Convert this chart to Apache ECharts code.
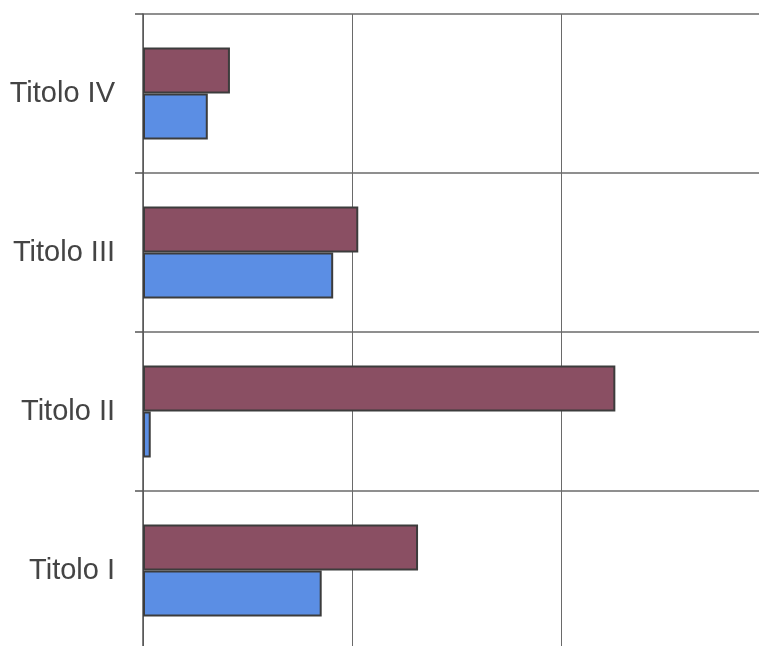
<!DOCTYPE html>
<html>
<head>
<meta charset="utf-8">
<script src="https://cdn.jsdelivr.net/npm/echarts@6/dist/echarts.min.js"></script>
<style>
html,body{margin:0;padding:0;background:#fff;overflow:hidden;width:759px;height:646px;}
#chart{width:770px;height:650px;}
</style>
</head>
<body>
<div id="chart"></div>
<script>
const categories = ['Titolo I', 'Titolo II', 'Titolo III', 'Titolo IV'];
const blueValues = [0.855, 0.037, 0.91, 0.31];
const maroonValues = [1.316, 2.26, 1.03, 0.416];
const xTicks = [0, 1, 2, 3];

const chart = echarts.init(document.getElementById('chart'), null, {renderer: 'canvas'});
chart.setOption({
  animation: false,
  backgroundColor: '#ffffff',
  grid: {left: 143, top: 14, right: 0, bottom: 0, containLabel: false},
  xAxis: {
    type: 'value',
    min: xTicks[0],
    max: xTicks[xTicks.length - 1],
    interval: 1,
    axisLabel: {show: false},
    axisTick: {show: false},
    axisLine: {show: false},
    splitLine: {show: true, lineStyle: {color: '#6a6a6a', width: 1}}
  },
  yAxis: {
    type: 'category',
    data: categories,
    axisLine: {show: true, lineStyle: {color: '#555555', width: 1.5}},
    axisTick: {show: true, length: 8, lineStyle: {color: '#555555', width: 1.5}},
    splitLine: {show: true, lineStyle: {color: '#6a6a6a', width: 1.5}},
    axisLabel: {
      margin: 28,
      fontFamily: 'Liberation Sans, Arial, sans-serif',
      fontSize: 29,
      color: '#444444',
      padding: [6, 0, 0, 0]
    }
  },
  series: [
    {
      name: 'Serie 2',
      type: 'bar',
      data: maroonValues,
      barWidth: 46,
      barGap: '0%',
      itemStyle: {color: '#8a4f63', borderColor: '#3c3c3c', borderWidth: 2}
    },
    {
      name: 'Serie 1',
      type: 'bar',
      data: blueValues,
      barWidth: 46,
      barGap: '0%',
      itemStyle: {color: '#5b8ee4', borderColor: '#3c3c3c', borderWidth: 2}
    }
  ]
});
</script>
</body>
</html>
